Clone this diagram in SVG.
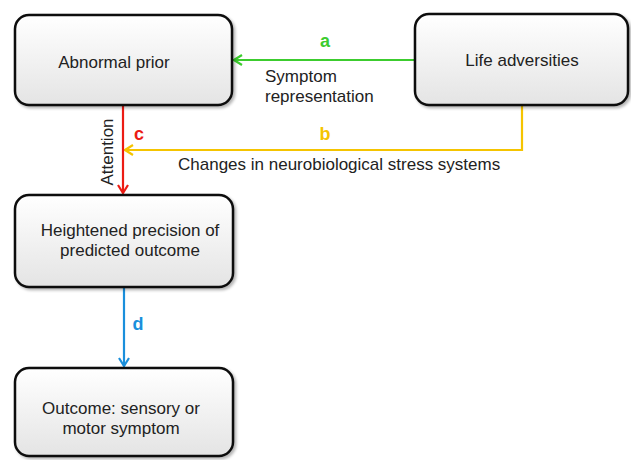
<svg xmlns="http://www.w3.org/2000/svg" width="631" height="460" viewBox="0 0 631 460">
<defs>
<linearGradient id="g" x1="0" y1="0" x2="0" y2="1">
<stop offset="0" stop-color="#ffffff"/>
<stop offset="1" stop-color="#e4e4e4"/>
</linearGradient>
<filter id="sh" x="-10%" y="-10%" width="130%" height="130%">
<feGaussianBlur in="SourceAlpha" stdDeviation="1.5"/>
<feOffset dx="2" dy="2"/>
<feComponentTransfer><feFuncA type="linear" slope="0.3"/></feComponentTransfer>
<feMerge><feMergeNode/><feMergeNode in="SourceGraphic"/></feMerge>
</filter>
<marker id="ag" viewBox="0 0 12 12" refX="11" refY="6" markerWidth="12" markerHeight="12" markerUnits="userSpaceOnUse" orient="auto"><path d="M3,1 L11,6 L3,11" fill="none" stroke="#3ccc2e" stroke-width="2.2"/></marker>
<marker id="ay" viewBox="0 0 12 12" refX="11" refY="6" markerWidth="12" markerHeight="12" markerUnits="userSpaceOnUse" orient="auto"><path d="M3,1 L11,6 L3,11" fill="none" stroke="#f5c400" stroke-width="2.2"/></marker>
<marker id="ar" viewBox="0 0 12 12" refX="11" refY="6" markerWidth="12" markerHeight="12" markerUnits="userSpaceOnUse" orient="auto"><path d="M3,1 L11,6 L3,11" fill="none" stroke="#ec1c14" stroke-width="2.2"/></marker>
<marker id="ab" viewBox="0 0 12 12" refX="11" refY="6" markerWidth="12" markerHeight="12" markerUnits="userSpaceOnUse" orient="auto"><path d="M3,1 L11,6 L3,11" fill="none" stroke="#1a8fdc" stroke-width="2.2"/></marker>
</defs>
<style>
.box{fill:url(#g);stroke:#111;stroke-width:2.5;filter:url(#sh)}
.t{font-family:"Liberation Sans",Arial,sans-serif;font-size:17px;fill:#222;text-anchor:middle}
.l{font-family:"Liberation Sans",Arial,sans-serif;font-size:17px;fill:#222}
.k{font-family:"Liberation Sans",Arial,sans-serif;font-size:18px;font-weight:bold}
.c{fill:none;stroke-width:2.2}
</style>
<rect width="631" height="460" fill="#ffffff"/>
<g id="connectors">
<line class="c" x1="414" y1="60" x2="234" y2="60" stroke="#3ccc2e" marker-end="url(#ag)"/>
<polyline class="c" points="522,106 522,150 125,150" stroke="#f5c400" marker-end="url(#ay)"/>
<line class="c" x1="123" y1="106" x2="123" y2="193" stroke="#ec1c14" marker-end="url(#ar)"/>
<line class="c" x1="124" y1="288" x2="124" y2="366" stroke="#1a8fdc" marker-end="url(#ab)"/>
<text class="k" x="325" y="47" fill="#3ccc2e" text-anchor="middle">a</text>
<text class="l" x="265" y="82">Symptom</text>
<text class="l" x="265" y="102">representation</text>
<text class="k" x="325" y="140" fill="#f5c400" text-anchor="middle">b</text>
<text class="l" x="178" y="170">Changes in neurobiological stress systems</text>
<text class="k" x="139" y="140" fill="#ec1c14" text-anchor="middle">c</text>
<text class="l" transform="translate(113,152) rotate(-90)" text-anchor="middle">Attention</text>
<text class="k" x="138" y="330" fill="#1a8fdc" text-anchor="middle">d</text>
</g>
<g id="abnormal-prior">
<rect class="box" x="15" y="15" width="217" height="90" rx="14"/>
<text class="t" x="114" y="68">Abnormal prior</text>
</g>
<g id="life-adversities">
<rect class="box" x="415" y="14" width="213" height="91" rx="14"/>
<text class="t" x="522" y="66">Life adversities</text>
</g>
<g id="heightened-precision">
<rect class="box" x="15" y="195" width="218" height="92" rx="14"/>
<text class="t" x="130" y="236">Heightened precision of</text>
<text class="t" x="130" y="256">predicted outcome</text>
</g>
<g id="outcome">
<rect class="box" x="15" y="368" width="218" height="88" rx="14"/>
<text class="t" x="121" y="414">Outcome: sensory or</text>
<text class="t" x="121" y="434">motor symptom</text>
</g>
</svg>
